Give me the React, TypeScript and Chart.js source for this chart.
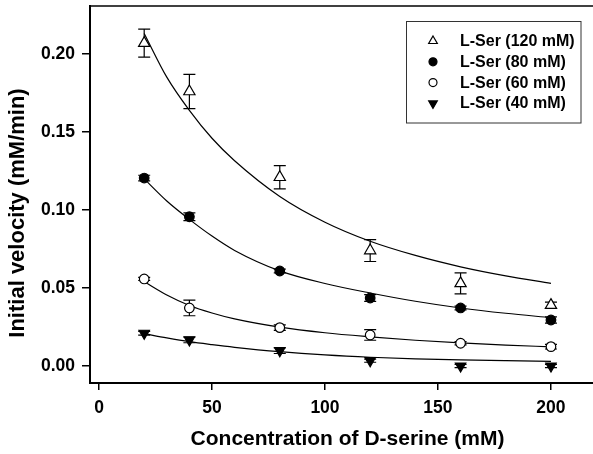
import React, { useEffect, useRef } from "react";
import { Chart, registerables } from "chart.js";

Chart.register(...registerables);

// ---- data ----
const concD = [20, 40, 80, 120, 160, 200];
const seriesLabels = ["L-Ser (120 mM)", "L-Ser (80 mM)", "L-Ser (60 mM)", "L-Ser (40 mM)"];

const v120 = [0.207, 0.176, 0.121, 0.074, 0.053, 0.039];
const e120 = [0.009, 0.011, 0.0075, 0.007, 0.0067, 0.002];
const v80 = [0.1205, 0.0957, 0.0609, 0.0436, 0.0372, 0.0295];
const e80 = [0.0018, 0.0025, 0.0012, 0.0022, 0.0012, 0.002];
const v60 = [0.0558, 0.0372, 0.0246, 0.0199, 0.0146, 0.0124];
const e60 = [0.001, 0.005, 0.0018, 0.0034, 0.001, 0.0015];
const v40 = [0.021, 0.0167, 0.0098, 0.0034, 0.0, 0.0];
const e40 = [0.0012, 0.0018, 0.0018, 0.001, 0.001, 0.001];

// fitted curves, read at these concentrations
const fitX = [20, 30, 40, 50, 60, 80, 100, 120, 140, 160, 180, 200];
const fit120 = [0.2132, 0.1852, 0.1639, 0.146, 0.1316, 0.1087, 0.0922, 0.08, 0.0709, 0.0636, 0.0578, 0.053];
const fit80 = [0.12, 0.1058, 0.094, 0.0833, 0.0741, 0.061, 0.0529, 0.0468, 0.0415, 0.0372, 0.0338, 0.031];
const fit60 = [0.054, 0.0455, 0.0388, 0.034, 0.0302, 0.0249, 0.0213, 0.0187, 0.0165, 0.0148, 0.0134, 0.0123];
const fit40 = [0.0207, 0.018, 0.0156, 0.0137, 0.012, 0.0092, 0.0071, 0.0056, 0.0046, 0.0039, 0.0034, 0.003];

const xTicks = [0, 50, 100, 150, 200];
const yTicks = [0, 0.05, 0.1, 0.15, 0.2];
const xTitle = "Concentration of D-serine (mM)";
const yTitle = "Initial velocity (mM/min)";

const FAMILY = '"Liberation Sans", Arial, Helvetica, sans-serif';

type MarkerSpec = { style: "triangle" | "circle"; rotation: number; fill: string; r: number; lr: number };
const markers: MarkerSpec[] = [
  { style: "triangle", rotation: 0, fill: "#ffffff", r: 6.5, lr: 5 },
  { style: "circle", rotation: 0, fill: "#000000", r: 4.8, lr: 4 },
  { style: "circle", rotation: 0, fill: "#ffffff", r: 4.8, lr: 4 },
  { style: "triangle", rotation: 180, fill: "#000000", r: 6, lr: 5 },
];

const values = [v120, v80, v60, v40];
const errors = [e120, e80, e60, e40];
const fits = [fit120, fit80, fit60, fit40];

function drawMarker(ctx: CanvasRenderingContext2D, m: MarkerSpec, x: number, y: number, r: number) {
  ctx.save();
  ctx.beginPath();
  if (m.style === "circle") {
    ctx.arc(x, y, r, 0, Math.PI * 2);
  } else {
    let a = (m.rotation * Math.PI) / 180;
    for (let k = 0; k < 3; k++) {
      const px = x + Math.sin(a) * r;
      const py = y - Math.cos(a) * r;
      if (k === 0) ctx.moveTo(px, py);
      else ctx.lineTo(px, py);
      a += (2 * Math.PI) / 3;
    }
    ctx.closePath();
  }
  ctx.fillStyle = m.fill;
  ctx.fill();
  ctx.lineWidth = 1.2;
  ctx.strokeStyle = "#000";
  ctx.stroke();
  ctx.restore();
}

const overlayPlugin = {
  id: "overlay",
  beforeDatasetsDraw(chart: any) {
    const ctx: CanvasRenderingContext2D = chart.ctx;
    const xs = chart.scales.x;
    const ys = chart.scales.y;
    ctx.save();
    ctx.strokeStyle = "#000";
    ctx.lineWidth = 1.2;
    values.forEach((vals, si) => {
      vals.forEach((v, i) => {
        const e = errors[si][i];
        const px = xs.getPixelForValue(concD[i]);
        const top = ys.getPixelForValue(v + e);
        const bot = ys.getPixelForValue(v - e);
        ctx.beginPath();
        ctx.moveTo(px, top);
        ctx.lineTo(px, bot);
        ctx.moveTo(px - 6, top);
        ctx.lineTo(px + 6, top);
        ctx.moveTo(px - 6, bot);
        ctx.lineTo(px + 6, bot);
        ctx.stroke();
      });
    });
    ctx.restore();
  },
  afterDraw(chart: any) {
    const ctx: CanvasRenderingContext2D = chart.ctx;
    const area = chart.chartArea;
    ctx.save();
    // top frame line
    ctx.strokeStyle = "#000";
    ctx.lineWidth = 1.5;
    ctx.beginPath();
    ctx.moveTo(area.left, area.top);
    ctx.lineTo(chart.width, area.top);
    ctx.stroke();

    // axis titles
    ctx.fillStyle = "#000";
    ctx.textAlign = "center";
    ctx.textBaseline = "middle";
    ctx.font = `bold 21px ${FAMILY}`;
    ctx.fillText(xTitle, 347.5, 439);

    ctx.save();
    ctx.translate(18, 213);
    ctx.rotate(-Math.PI / 2);
    ctx.font = `bold 22px ${FAMILY}`;
    ctx.fillText(yTitle, 0, 0);
    ctx.restore();

    // legend box
    const bx = 406.5, by = 21.5, bw = 174.5, bh = 101.5;
    ctx.fillStyle = "#fff";
    ctx.fillRect(bx, by, bw, bh);
    ctx.strokeStyle = "#333";
    ctx.lineWidth = 1;
    ctx.strokeRect(bx, by, bw, bh);
    ctx.font = `bold 16px ${FAMILY}`;
    ctx.textAlign = "left";
    ctx.textBaseline = "middle";
    seriesLabels.forEach((lab, i) => {
      const yy = 41 + i * 20.8;
      drawMarker(ctx, markers[i], 433, yy, markers[i].lr);
      ctx.fillStyle = "#000";
      ctx.fillText(lab, 460, yy + 0.5);
    });
    ctx.restore();
  },
};

export default function App() {
  const ref = useRef<HTMLCanvasElement | null>(null);

  useEffect(() => {
    if (!ref.current) return;
    const pointSets = values.map((vals, si) => ({
      label: seriesLabels[si],
      data: vals.map((v, i) => ({ x: concD[i], y: v })),
      showLine: false,
      pointStyle: markers[si].style,
      rotation: markers[si].rotation,
      pointRadius: markers[si].r,
      pointBackgroundColor: markers[si].fill,
      pointBorderColor: "#000",
      pointBorderWidth: 1.2,
      order: 0,
    }));
    const fitSets = fits.map((f, si) => ({
      label: seriesLabels[si] + " fit",
      data: f.map((v, i) => ({ x: fitX[i], y: v })),
      showLine: true,
      borderColor: "#000",
      borderWidth: 1.2,
      pointRadius: 0,
      cubicInterpolationMode: "monotone" as const,
      fill: false,
      order: 1,
    }));

    const tickFont = { family: FAMILY, size: 17.5, weight: "bold" as const };

    const chart = new Chart(ref.current, {
      type: "scatter",
      data: { datasets: [...pointSets, ...fitSets] as any },
      options: {
        animation: false,
        responsive: false,
        devicePixelRatio: 1,
        events: [],
        layout: { autoPadding: false, padding: { top: 6, left: 0, right: 0, bottom: 0 } },
        plugins: { legend: { display: false }, tooltip: { enabled: false } },
        scales: {
          x: {
            type: "linear",
            min: -3.98,
            max: 218.6,
            afterBuildTicks: (s: any) => {
              s.ticks = xTicks.map((v) => ({ value: v }));
            },
            afterFit: (s: any) => {
              s.height = 71;
              s.paddingLeft = 0;
              s.paddingRight = 0;
            },
            grid: { drawOnChartArea: false, drawTicks: true, tickLength: 7, color: "#000", lineWidth: 1.5 },
            border: { display: true, color: "#000", width: 2 },
            ticks: {
              color: "#000",
              font: tickFont,
              padding: 8,
              autoSkip: false,
              maxRotation: 0,
              callback: (v: any) => String(v),
            },
            title: { display: false },
          },
          y: {
            type: "linear",
            min: -0.0109,
            max: 0.2308,
            afterBuildTicks: (s: any) => {
              s.ticks = yTicks.map((v) => ({ value: v }));
            },
            afterFit: (s: any) => {
              s.width = 90;
              s.paddingTop = 0;
              s.paddingBottom = 0;
            },
            grid: { drawOnChartArea: false, drawTicks: true, tickLength: 8, color: "#000", lineWidth: 1.5 },
            border: { display: true, color: "#000", width: 2 },
            ticks: {
              color: "#000",
              font: tickFont,
              padding: 7,
              autoSkip: false,
              callback: (v: any) => Number(v).toFixed(2),
            },
            title: { display: false },
          },
        },
      },
      plugins: [overlayPlugin],
    });
    return () => chart.destroy();
  }, []);

  return (
    <div style={{ position: "absolute", left: 0, top: 0, width: 593, height: 454, background: "#fff" }}>
      <canvas ref={ref} width={593} height={454} style={{ display: "block" }} />
    </div>
  );
}
